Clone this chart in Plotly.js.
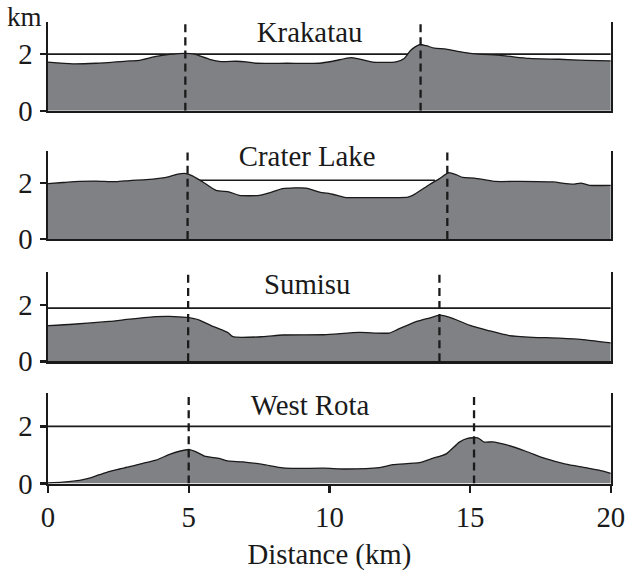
<!DOCTYPE html>
<html>
<head>
<meta charset="utf-8">
<script src="https://cdn.plot.ly/plotly-3.0.1.min.js"></script>
<style>
html,body{margin:0;padding:0;background:#fff;}
#wrap{position:relative;width:628px;height:571px;overflow:hidden;background:#fff;}
#scaler{position:absolute;left:0;top:0;width:523.333px;height:475.833px;transform:scale(1.2);transform-origin:0 0;}
#chart{width:523.333px;height:475.833px;}
#km{position:absolute;left:5.8px;top:4.2px;font-family:'Liberation Serif','Times New Roman',serif;font-size:22.5px;line-height:1;color:#1a1a1a;z-index:10;}
</style>
</head>
<body>
<div id="wrap"><div id="scaler">
<div id="km">km</div>
<div id="chart"></div>
</div></div>
<script>
// Panel names (top to bottom)
const volcanoes = ["Krakatau", "Crater Lake", "Sumisu", "West Rota"];

// Profile distances (km) and elevations (km)
const krakatauX = [0, 0.88, 1.71, 2.9, 3.25, 3.84, 4.32, 4.88, 5.2, 5.74, 6.15, 6.68, 7.04, 7.39, 8.5, 9.64, 10.12, 10.77, 11.19, 11.54, 12.37, 12.67, 12.9, 13.2, 13.44, 13.73, 14.15, 14.62, 15.1, 16.15, 17.1, 18.17, 19.1, 20];
const krakatauY = [1.72, 1.66, 1.68, 1.76, 1.78, 1.92, 1.99, 2.03, 2.0, 1.82, 1.74, 1.75, 1.73, 1.68, 1.68, 1.68, 1.75, 1.88, 1.80, 1.72, 1.73, 1.86, 2.15, 2.34, 2.30, 2.21, 2.18, 2.09, 2.02, 1.95, 1.85, 1.82, 1.78, 1.76];

const craterX = [0, 0.53, 1.12, 1.71, 2.42, 2.9, 3.49, 4.2, 4.61, 4.91, 5.15, 5.5, 5.97, 6.45, 6.8, 7.51, 7.87, 8.34, 9.17, 9.65, 10.12, 10.54, 11.42, 12.79, 12.96, 13.56, 13.9, 14.24, 14.5, 14.74, 15.15, 15.86, 16.75, 17.93, 18.65, 18.94, 19.24, 20];
const craterY = [1.98, 2.02, 2.06, 2.07, 2.05, 2.09, 2.12, 2.20, 2.32, 2.34, 2.25, 2.04, 1.74, 1.68, 1.56, 1.56, 1.65, 1.80, 1.82, 1.68, 1.60, 1.49, 1.48, 1.50, 1.56, 1.95, 2.15, 2.37, 2.30, 2.20, 2.18, 2.06, 2.06, 2.04, 1.96, 2.0, 1.92, 1.92];

const sumisuX = [0, 0.88, 2.17, 2.9, 3.84, 4.32, 4.91, 5.38, 5.8, 6.21, 6.39, 6.57, 7.63, 8.34, 9.8, 11.06, 12.13, 12.43, 13.08, 13.55, 13.93, 14.38, 14.97, 15.68, 16.39, 17.22, 18.17, 19.1, 20];
const sumisuY = [1.26, 1.31, 1.41, 1.49, 1.58, 1.59, 1.55, 1.46, 1.26, 1.10, 1.02, 0.87, 0.87, 0.93, 0.94, 1.02, 1.0, 1.13, 1.40, 1.53, 1.63, 1.52, 1.28, 1.08, 0.91, 0.85, 0.82, 0.76, 0.65];

const rotaX = [0, 0.53, 1.12, 1.47, 1.83, 2.2, 2.54, 2.9, 3.37, 3.84, 4.32, 4.67, 5.03, 5.26, 5.56, 6.09, 6.39, 6.92, 7.63, 8.34, 8.82, 9.8, 10.6, 11.78, 12.25, 13.2, 13.67, 14.15, 14.62, 14.91, 15.27, 15.5, 15.8, 16.27, 16.98, 17.69, 18.4, 19.1, 19.58, 20];
const rotaY = [0.02, 0.05, 0.11, 0.19, 0.31, 0.43, 0.51, 0.59, 0.71, 0.82, 1.02, 1.13, 1.19, 1.11, 0.96, 0.88, 0.79, 0.76, 0.67, 0.55, 0.53, 0.54, 0.51, 0.56, 0.66, 0.73, 0.88, 1.04, 1.45, 1.58, 1.60, 1.45, 1.46, 1.36, 1.13, 0.87, 0.68, 0.56, 0.47, 0.36];

// Reference (water-level) lines: start, end, elevation
const levelStart = [0, 5.3, 0, 0];
const levelEnd = [20, 13.75, 20, 20];
const levelY = [2.0, 2.1, 1.88, 2.0];

// Dashed crater-rim markers (km)
const rimA = [4.88, 4.96, 4.98, 5.0];
const rimB = [13.24, 14.19, 13.91, 15.14];

// Title label positions (km, km)
const titleX = [9.3, 9.2, 9.2, 9.3];
const titleY = [2.75, 2.97, 2.72, 2.74];

const xTicks = [0, 5, 10, 15, 20];
const yTicks = [0, 2];

const profilesX = [krakatauX, craterX, sumisuX, rotaX];
const profilesY = [krakatauY, craterY, sumisuY, rotaY];

const SERIF = "Liberation Serif";
const domains = [[0.8069, 1.0], [0.5293, 0.7202], [0.2646, 0.4577], [0, 0.1952]];
const YMAX = 3.15;
const K = 1 / 1.2; // drawing is scaled up by 1.2 with CSS

function build() {
  const traces = [];
  const layout = {
    width: 628 * K, height: 571 * K,
    margin: {l: 48 * K, r: 17 * K, t: 22 * K, b: 88 * K, pad: 0},
    paper_bgcolor: "rgba(255,255,255,0)", plot_bgcolor: "rgba(255,255,255,0)",
    showlegend: false,
    shapes: [], annotations: []
  };
  for (let i = 0; i < 4; i++) {
    const n = i + 1;
    const xa = n === 1 ? "x" : "x" + n;
    const ya = n === 1 ? "y" : "y" + n;
    traces.push({
      type: "scatter", mode: "lines", xaxis: xa, yaxis: ya,
      x: [levelStart[i], levelEnd[i]], y: [levelY[i], levelY[i]],
      line: {color: "#1a1a1a", width: 1.6 * K}, hoverinfo: "skip"
    });
    traces.push({
      type: "scatter", mode: "lines", xaxis: xa, yaxis: ya,
      x: profilesX[i], y: profilesY[i], fill: "tozeroy",
      fillcolor: "#808185", line: {color: "#1a1a1a", width: 1.3 * K, shape: "spline", smoothing: 0.6},
      hoverinfo: "skip"
    });
    const last = i === 3;
    layout["xaxis" + (n === 1 ? "" : n)] = {
      domain: [0, 1], anchor: ya, range: [0, 20],
      showline: true, linecolor: "#1a1a1a", linewidth: 2.2 * K,
      showgrid: false, zeroline: false,
      tickvals: last ? xTicks : [], ticktext: last ? xTicks.map(String) : [],
      ticks: last ? "outside" : "", ticklen: 7 * K, tickwidth: 2.2 * K, tickcolor: "#1a1a1a",
      showticklabels: last,
      tickfont: {family: SERIF, size: 24, color: "#1a1a1a"},
      title: last ? {text: "Distance (km)", font: {family: SERIF, size: 24, color: "#1a1a1a"}, standoff: 10} : {text: ""}
    };
    layout["yaxis" + (n === 1 ? "" : n)] = {
      domain: domains[i], anchor: xa, range: [0, YMAX],
      showline: true, mirror: true, linecolor: "#1a1a1a", linewidth: 2.2 * K,
      showgrid: false, zeroline: false,
      tickvals: yTicks, ticktext: yTicks.map(String),
      ticks: "outside", ticklen: 6 * K, tickwidth: 2 * K, tickcolor: "#1a1a1a",
      tickfont: {family: SERIF, size: 24, color: "#1a1a1a"}, ticklabelstandoff: 1
    };
    [rimA[i], rimB[i]].forEach(function (xr) {
      layout.shapes.push({
        type: "line", xref: xa, yref: ya, x0: xr, x1: xr, y0: 0, y1: YMAX,
        line: {color: "#1a1a1a", width: 2.3 * K, dash: "6.7px,4.2px"}, layer: "above"
      });
    });
    layout.annotations.push({
      xref: xa, yref: ya, x: titleX[i], y: titleY[i], text: volcanoes[i],
      showarrow: false, xanchor: "center", yanchor: "middle",
      font: {family: SERIF, size: 24, color: "#1a1a1a"}
    });
  }
  return {traces: traces, layout: layout};
}

function draw() {
  const b = build();
  Plotly.react("chart", b.traces, b.layout, {displayModeBar: false});
}
draw();
if (document.fonts && document.fonts.load) {
  document.fonts.load('24px "Liberation Serif"').then(draw, draw);
}
</script>
</body>
</html>
